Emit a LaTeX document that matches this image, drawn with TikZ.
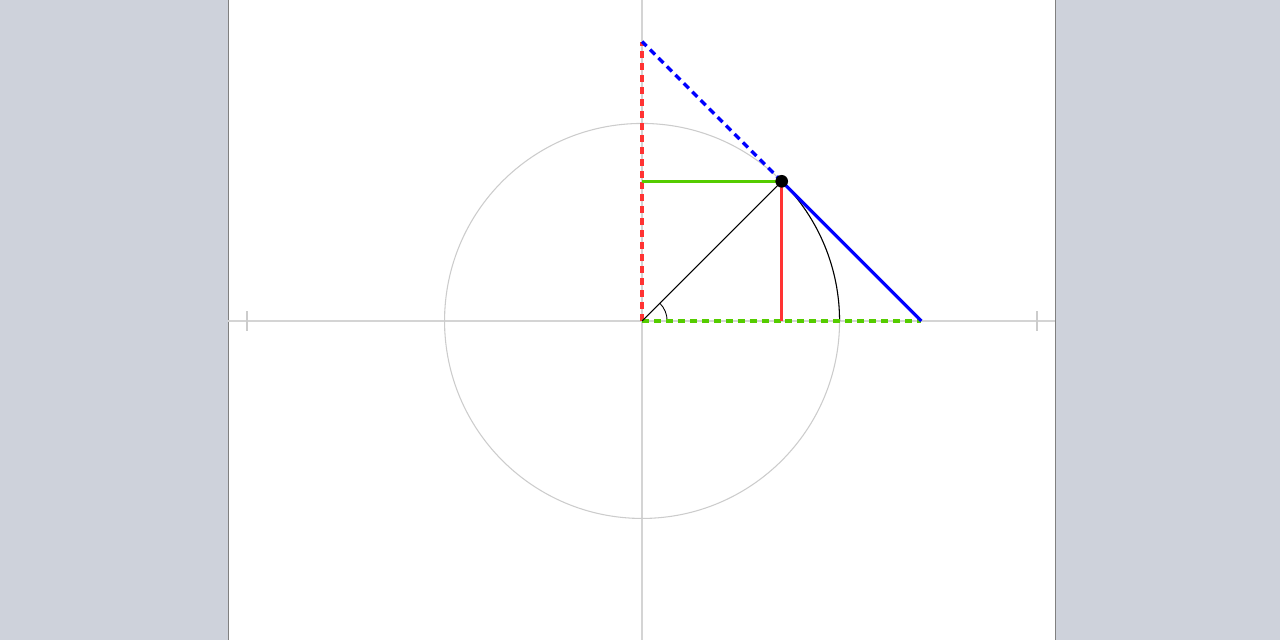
\documentclass[tikz,border=0pt]{standalone}
\usepackage{xcolor}
\usepackage{tikz}
\definecolor{rand}{HTML}{CED2DB}
\definecolor{achse}{HTML}{D4D4D4}
\definecolor{kreis}{HTML}{CCCCCC}
\definecolor{sinus}{HTML}{FF3333}
\definecolor{kosinus}{HTML}{55CC00}
\definecolor{tangens}{HTML}{0000FF}

\begin{document}
\begin{tikzpicture}[scale=3.95,
    trig/.style={line width=1.8pt},
    trigdash/.style={line width=1.9pt, dash pattern=on 4pt off 2.8pt}]
    % Background and panel
    \useasboundingbox (-3.251,-1.615) rectangle (3.230,1.625);
    \fill[rand] (-3.251,-1.615) rectangle (3.230,1.625);
    \fill[white, draw=gray, line width=0.6pt] (-2.096,-1.7) rectangle (2.091,1.7);

    % Points
    \coordinate (O) at (0,0);
    \coordinate (P) at (45:1);
    \coordinate (S) at ({cos(45)},0);
    \coordinate (C) at (0,{sin(45)});
    \coordinate (T) at ({1/cos(45)},0);
    \coordinate (K) at (0,{1/sin(45)});

    % Axes
    \draw[achse, line width=0.7pt] (-2.096,0) -- (2.091,0);
    \draw[achse, line width=0.7pt] (0,-1.615) -- (0,1.625);

    % Ticks
    \foreach \x in {-2,-1,1,2}
        \draw[kreis, line width=1pt] (\x,-0.05) -- (\x,0.05);
    \foreach \y in {-1,1}
        \draw[kreis, line width=1pt] (-0.05,\y) -- (0.05,\y);

    % Unit circle
    \draw[kreis, line width=0.6pt] (O) circle (1);

    % Arc on the circle
    \draw[black, line width=0.6pt] (1,0) arc (0:45:1);

    % Angle
    \draw[black, line width=0.5pt] (0.127,0) arc (0:45:0.127);

    % csc and sec (dashed)
    \draw[trigdash, sinus] (O) -- (K);
    \draw[trigdash, kosinus] (O) -- (T);
    \draw[trigdash, tangens] (P) -- (K);

    % Radius
    \draw[black, line width=0.6pt] (O) -- (P);

    % sin, cos, tan
    \draw[trig, sinus] (P) -- (S);
    \draw[trig, kosinus] (P) -- (C);
    \draw[trig, tangens] (P) -- (T);

    % Point on the circle
    \fill[black] (P) circle (0.032);
\end{tikzpicture}
\end{document}
